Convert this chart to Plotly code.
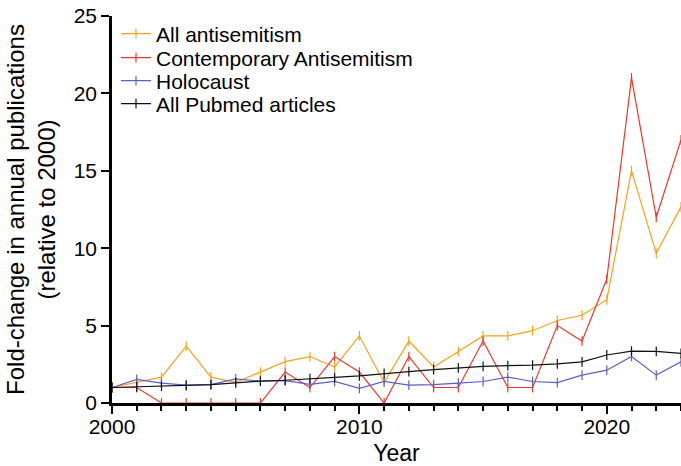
import plotly.graph_objects as go

years = list(range(2000, 2024))
all_antisemitism = [1.0, 1.33, 1.67, 3.67, 1.67, 1.33, 2.0, 2.67, 3.0, 2.33, 4.33, 1.33,
                    4.0, 2.33, 3.33, 4.33, 4.33, 4.67, 5.33, 5.67, 6.67, 15.0, 9.67, 12.67]
contemporary = [1, 1, 0, 0, 0, 0, 0, 2, 1, 3, 2, 0, 3, 1, 1, 4, 1, 1, 5, 4, 8, 21, 12, 17]
holocaust = [1.0, 1.52, 1.28, 1.15, 1.19, 1.56, 1.41, 1.45, 1.21, 1.39, 0.95, 1.39,
             1.15, 1.19, 1.28, 1.39, 1.67, 1.39, 1.32, 1.8, 2.12, 3.01, 1.8, 2.66]
pubmed = [1.0, 1.04, 1.08, 1.13, 1.19, 1.3, 1.41, 1.47, 1.58, 1.65, 1.75, 1.91,
          2.03, 2.16, 2.27, 2.36, 2.42, 2.45, 2.53, 2.66, 3.1, 3.35, 3.33, 3.2]
tick_years = [2000, 2010, 2020]
y_ticks = [0, 5, 10, 15, 20, 25]

series = [
    ("All antisemitism", all_antisemitism, "#F5A21C", "legend"),
    ("Contemporary Antisemitism", contemporary, "#E63B2B", "legend2"),
    ("Holocaust", holocaust, "#5B60C4", "legend3"),
    ("All Pubmed articles", pubmed, "#111111", "legend4"),
]

W, H = 681, 466
L, R, T, B = 112, 0, 16, 63
PW, PH = W - L - R, H - T - B

fig = go.Figure()
for name, vals, color, lg in series:
    fig.add_trace(go.Scatter(
        x=years, y=vals, name=name, mode="lines+markers", legend=lg,
        line=dict(color=color, width=1.2),
        marker=dict(symbol="line-ns", size=7, line=dict(color=color, width=1.2)),
        cliponaxis=False,
    ))

legend_centers = [34, 58, 81, 104]  # page-pixel y centres of legend rows
legends = {}
for i, cy in enumerate(legend_centers):
    key = "legend" if i == 0 else f"legend{i+1}"
    legends[key] = dict(
        x=(116 - L) / PW, xanchor="left",
        y=1 - (cy - T) / PH, yanchor="middle",
        bgcolor="rgba(0,0,0,0)", font=dict(size=21, color="black"),
        itemwidth=30, borderwidth=0,
    )

fig.update_layout(
    width=W, height=H,
    margin=dict(l=L, r=R, t=T, b=B),
    plot_bgcolor="white", paper_bgcolor="white",
    font=dict(family="Liberation Sans, Arial, sans-serif", size=21, color="black"),
    showlegend=True,
    **legends,
    xaxis=dict(
        range=[2000, 2023], tickmode="array", tickvals=tick_years,
        ticktext=[str(t) for t in tick_years],
        ticks="outside", ticklen=8, tickwidth=2, tickcolor="black",
        minor=dict(tickmode="linear", dtick=1, tick0=2000, ticks="outside",
                   ticklen=5, tickwidth=1.5, tickcolor="black", showgrid=False),
        showline=True, linecolor="black", linewidth=2.5,
        showgrid=False, zeroline=False, ticklabeloverflow="allow",
        ticklabelstandoff=-5,
        tickfont=dict(size=21),
        title=dict(text="Year", font=dict(size=23), standoff=9),
    ),
    yaxis=dict(
        range=[0, 25], tickmode="array", tickvals=y_ticks,
        ticks="outside", ticklen=8, tickwidth=2, tickcolor="black",
        showline=True, linecolor="black", linewidth=2.5,
        showgrid=False, zeroline=False, ticklabeloverflow="allow",
        tickfont=dict(size=21),
        title=dict(text="Fold-change in annual publications<br>(relative to 2000)",
                   font=dict(size=24), standoff=12),
    ),
)

fig.write_html("out.html", config={"displayModeBar": False},
               post_script="document.body.style.margin='0';document.body.style.overflow='hidden';")
